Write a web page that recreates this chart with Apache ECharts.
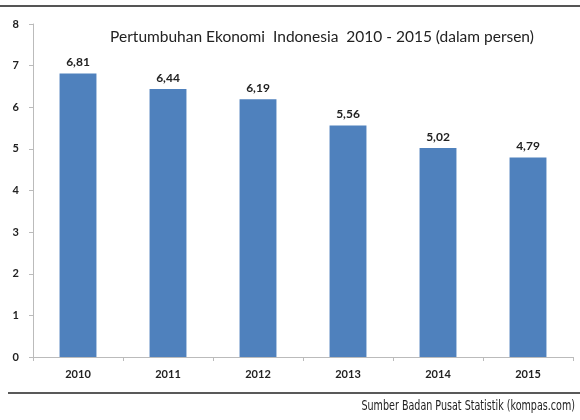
<!DOCTYPE html>
<html>
<head>
<meta charset="utf-8">
<script src="https://cdn.jsdelivr.net/npm/echarts@6/dist/echarts.min.js"></script>
<style>html,body{margin:0;padding:0;background:#fff}#c{width:580px;height:420px}</style>
</head>
<body>
<div id="c"></div>
<script>
var categories = ['2010', '2011', '2012', '2013', '2014', '2015'];
var growth = [6.81, 6.44, 6.19, 5.56, 5.02, 4.79];
var yTicks = [0, 1, 2, 3, 4, 5, 6, 7, 8];

var chart = echarts.init(document.getElementById('c'));
chart.setOption({
  animation: false,
  backgroundColor: '#fff',
  title: {
    text: 'Pertumbuhan Ekonomi  Indonesia  2010 - 2015 (dalam persen)',
    left: 317, top: 24, textAlign: 'center',
    textStyle: { fontFamily: 'Lato', fontSize: 15.5, fontWeight: 'normal', color: '#222' }
  },
  grid: { left: 33, right: 7, top: 24, bottom: 63 },
  xAxis: {
    type: 'category', data: categories,
    axisLine: { lineStyle: { color: '#bbb' } },
    axisTick: { show: true, alignWithLabel: false, length: 4, lineStyle: { color: '#bbb' } },
    axisLabel: { fontFamily: 'Lato', fontWeight: 'bold', fontSize: 11, color: '#222', margin: 12 }
  },
  yAxis: {
    type: 'value', min: yTicks[0], max: yTicks[yTicks.length - 1], interval: 1,
    splitLine: { show: false },
    axisLine: { show: true, lineStyle: { color: '#bbb' } },
    axisTick: { show: true, length: 4, lineStyle: { color: '#bbb' } },
    axisLabel: { fontFamily: 'Lato', fontWeight: 'bold', fontSize: 11, color: '#222', margin: 14 }
  },
  series: [{
    type: 'bar', data: growth, barWidth: '41%',
    itemStyle: { color: '#4f81bd' },
    label: {
      show: true, position: 'top', distance: 5,
      fontFamily: 'Lato', fontWeight: 'bold', fontSize: 12, color: '#222',
      formatter: function (p) { return p.value.toFixed(2).replace('.', ','); }
    }
  }],
  graphic: [
    { type: 'line', shape: { x1: 0, y1: 6, x2: 580, y2: 6 }, style: { stroke: '#555', lineWidth: 2 } },
    { type: 'line', shape: { x1: 8, y1: 393, x2: 580, y2: 393 }, style: { stroke: '#222', lineWidth: 1.5 } },
    { type: 'text', x: 575, y: 399, scaleX: 0.66,
      style: { text: 'Sumber Badan Pusat Statistik (kompas.com)', textAlign: 'right', textVerticalAlign: 'top', fontFamily: '"DejaVu Sans", sans-serif', fontSize: 14.5, fill: '#222' } }
  ]
});
</script>
</body>
</html>
